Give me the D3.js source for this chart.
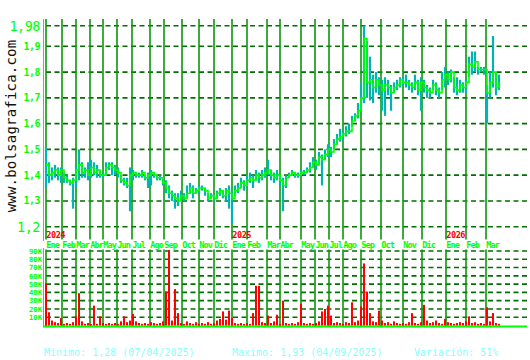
<!DOCTYPE html>
<html><head><meta charset="utf-8">
<script src="https://cdn.jsdelivr.net/npm/d3@7"></script>
<style>html,body{margin:0;padding:0;background:#fff;}svg{display:block;}</style>
</head><body>
<svg id="c" width="530" height="360"></svg>
<script>
// ---- DATA ----
const months = ["Ene","Feb","Mar","Abr","May","Jun","Jul","Ago","Sep","Oct","Nov","Dic",
                "Ene","Feb","Mar","Abr","May","Jun","Jul","Ago","Sep","Oct","Nov","Dic",
                "Ene","Feb","Mar"];
// trading sessions in each month (x axis is session-based)
const monthSessions = [16,14,14,13,14,15,18,14,18,17,15,18,
                       15,20,13,21,14,14,14,18,20,22,19,24,
                       20,20,14];
const yearLabels = ["2024","2025","2026"];
const yearMonthIndex = [0,12,24];
const sampleStep = 3; // sessions between samples
const close = [
1.44,1.40,1.41,1.42,1.40,1.42,1.39,1.38,1.37,1.38,
1.42,1.44,1.41,1.42,1.40,1.43,1.41,1.42,1.40,1.40,
1.43,1.44,1.43,1.42,1.41,1.38,1.37,1.36,1.40,1.41,
1.40,1.40,1.41,1.39,1.40,1.41,1.40,1.39,1.39,1.37,
1.35,1.33,1.32,1.31,1.30,1.32,1.31,1.33,1.35,1.33,
1.34,1.35,1.35,1.34,1.31,1.32,1.31,1.33,1.34,1.32,
1.34,1.33,1.31,1.34,1.35,
1.37,1.36,1.38,1.39,1.38,1.40,1.39,1.40,1.41,1.42,
1.40,1.39,1.40,1.38,1.36,1.39,1.40,1.41,1.40,1.40,
1.41,1.41,1.42,1.43,1.45,1.44,1.47,1.46,1.48,1.50,
1.49,1.52,1.54,1.55,1.56,1.57,1.57,1.61,1.63,1.65,
1.70,1.93,1.76,1.77,1.74,1.77,1.75,1.73,1.75,1.74,
1.72,1.74,1.75,1.77,1.76,1.76,1.75,1.74,1.76,1.73,
1.76,1.74,1.73,1.72,1.75,1.73,1.72,1.77,1.79,1.77,
1.80,1.74,1.73,1.75,1.74,1.76,1.83,1.82,1.84,1.81,
1.81,1.81,1.72,1.76,1.80,1.74,1.76];
const high = [
1.51,1.45,1.43,1.44,1.43,1.43,1.41,1.40,1.38,1.39,
1.44,1.50,1.45,1.43,1.45,1.46,1.45,1.44,1.42,1.41,
1.45,1.45,1.45,1.44,1.43,1.40,1.39,1.39,1.43,1.42,
1.41,1.41,1.42,1.40,1.41,1.42,1.41,1.40,1.40,1.39,
1.38,1.36,1.34,1.33,1.33,1.34,1.33,1.36,1.37,1.36,
1.35,1.36,1.36,1.35,1.33,1.33,1.32,1.34,1.35,1.34,
1.35,1.36,1.34,1.36,1.37,
1.39,1.38,1.40,1.41,1.40,1.42,1.41,1.42,1.43,1.46,
1.42,1.41,1.42,1.40,1.39,1.40,1.41,1.42,1.41,1.41,
1.42,1.42,1.43,1.45,1.47,1.46,1.49,1.48,1.50,1.52,
1.51,1.54,1.56,1.58,1.57,1.59,1.60,1.63,1.64,1.68,
1.76,1.98,1.92,1.86,1.79,1.80,1.78,1.77,1.78,1.77,
1.75,1.76,1.77,1.78,1.78,1.79,1.77,1.76,1.79,1.77,
1.78,1.77,1.75,1.74,1.77,1.76,1.74,1.80,1.82,1.80,
1.81,1.78,1.78,1.77,1.76,1.77,1.86,1.88,1.88,1.82,
1.82,1.82,1.75,1.80,1.94,1.80,1.79];
const low = [
1.35,1.37,1.38,1.39,1.38,1.37,1.37,1.37,1.36,1.27,
1.35,1.38,1.39,1.39,1.38,1.39,1.40,1.39,1.39,1.39,
1.40,1.42,1.40,1.40,1.39,1.37,1.36,1.35,1.26,1.38,
1.39,1.39,1.39,1.38,1.35,1.36,1.39,1.38,1.38,1.36,
1.33,1.31,1.30,1.27,1.28,1.30,1.30,1.31,1.33,1.31,
1.33,1.33,1.34,1.32,1.30,1.31,1.30,1.31,1.32,1.31,
1.30,1.27,1.21,1.32,1.33,
1.35,1.34,1.36,1.37,1.35,1.38,1.37,1.38,1.39,1.40,
1.38,1.37,1.38,1.36,1.26,1.35,1.39,1.40,1.39,1.39,
1.40,1.40,1.41,1.41,1.43,1.42,1.44,1.36,1.46,1.47,
1.47,1.50,1.52,1.53,1.54,1.55,1.56,1.59,1.61,1.62,
1.65,1.68,1.70,1.69,1.68,1.72,1.71,1.65,1.63,1.71,
1.65,1.72,1.73,1.74,1.75,1.74,1.73,1.72,1.73,1.71,
1.65,1.72,1.70,1.70,1.73,1.71,1.70,1.73,1.74,1.75,
1.76,1.72,1.71,1.72,1.72,1.72,1.78,1.79,1.80,1.79,
1.80,1.79,1.60,1.70,1.74,1.71,1.73];
const volumeK = [
51,16,6,4,3,9,2,3,2,4,
11,39,5,2,3,2,24,2,11,3,
2,3,2,3,2,5,11,4,6,14,
5,3,2,3,2,4,3,2,3,5,
41,91,6,44,15,3,2,5,3,2,
4,2,3,2,4,2,3,6,8,17,
7,18,9,3,2,
3,2,3,2,15,48,48,4,3,12,
3,5,13,2,30,3,2,3,2,4,
26,3,2,3,2,3,5,17,20,24,
12,3,4,3,2,4,3,28,4,6,
23,75,41,15,5,4,18,6,3,4,
2,5,3,2,3,2,4,15,3,2,
4,25,6,3,4,6,3,2,8,4,
3,2,3,4,3,5,11,3,4,2,
3,2,22,5,15,3,2];
const priceTicks = [1.2,1.3,1.4,1.5,1.6,1.7,1.8,1.9,1.98];
const volumeTicks = [10,20,30,40,50,60,70,80,90];
const statTexts = ["Minimo: 1,28 (07/04/2025)","Maximo: 1,93 (04/09/2025)","Variación: 51%"];
const siteName = "www.bolsagrafica.com";

// ---- CHART ----
const svg = d3.select("#c");
const monthStart = Array.from(d3.cumsum([0].concat(monthSessions.slice(0,-1))));
const x = d3.scaleLinear().domain([0, 454]).range([46, 500]);
const yP = d3.scaleLinear().domain([1.2, 1.98]).range([226.7, 25.7]);
const yV = d3.scaleLinear().domain([0, 90]).range([325.5, 251]);
const GRID_R = 527;
const mono = "'DejaVu Sans Mono', monospace";
const BG = "#00ff00";

svg.append("rect").attr("width",530).attr("height",360).attr("fill","#fff");

// horizontal dashed grid - price
svg.append("g").selectAll("line").data(priceTicks).join("line")
  .attr("x1",46).attr("x2",GRID_R)
  .attr("y1",d=>yP(d)).attr("y2",d=>yP(d))
  .attr("stroke","#007000").attr("stroke-width",1.6).attr("stroke-dasharray","5,3.5");
// horizontal dashed grid - volume
svg.append("g").selectAll("line").data(volumeTicks).join("line")
  .attr("x1",46).attr("x2",GRID_R)
  .attr("y1",d=>yV(d)).attr("y2",d=>yV(d))
  .attr("stroke","#007000").attr("stroke-width",1.6).attr("stroke-dasharray","5,3.5");

// month vertical lines
const mg = svg.append("g");
mg.selectAll("line.p").data(monthStart).join("line").attr("class","p")
  .attr("x1",d=>x(d)).attr("x2",d=>x(d)).attr("y1",19).attr("y2",239.5)
  .attr("stroke","#0a960a").attr("stroke-width",1.6);
mg.selectAll("line.v").data(monthStart).join("line").attr("class","v")
  .attr("x1",d=>x(d)).attr("x2",d=>x(d)).attr("y1",249.5).attr("y2",326)
  .attr("stroke","#0a960a").attr("stroke-width",1.6);

// axes lines
svg.append("line").attr("x1",43.5).attr("x2",43.5).attr("y1",19).attr("y2",241)
  .attr("stroke",BG).attr("stroke-width",1);
svg.append("line").attr("x1",43.5).attr("x2",43.5).attr("y1",248).attr("y2",327)
  .attr("stroke",BG).attr("stroke-width",1);
svg.append("line").attr("x1",43).attr("x2",GRID_R).attr("y1",326.5).attr("y2",326.5)
  .attr("stroke",BG).attr("stroke-width",2);

// price high-low bars
const idx = close.map((d,i)=>i*sampleStep);
svg.append("g").selectAll("line").data(close).join("line")
  .attr("x1",(d,i)=>x(idx[i])).attr("x2",(d,i)=>x(idx[i]))
  .attr("y1",(d,i)=>yP(high[i])).attr("y2",(d,i)=>yP(low[i]))
  .attr("stroke","#00b4b4").attr("stroke-width",2.2);
// close line
svg.append("path").datum(close)
  .attr("d", d3.line().x((d,i)=>x(idx[i])).y(d=>yP(d)).curve(d3.curveStepAfter))
  .attr("fill","none").attr("stroke","#00ff00").attr("stroke-width",1.6);

// volume bars
svg.append("g").selectAll("rect").data(volumeK).join("rect")
  .attr("x",(d,i)=>x(i*sampleStep)-1).attr("width",2)
  .attr("y",d=>yV(d)).attr("height",d=>yV(0)-yV(d))
  .attr("fill","#ff0000");

// y tick labels price
const isBig = d => (d===1.98||d===1.2);
svg.append("g").selectAll("text").data(priceTicks).join("text")
  .attr("x",40).attr("y",d=>yP(d))
  .attr("dy",d=>isBig(d)?5:3.5)
  .attr("text-anchor","end")
  .attr("font-family",mono)
  .attr("font-size",d=>isBig(d)?13.5:10)
  .attr("font-weight",d=>isBig(d)?"normal":"bold")
  .attr("letter-spacing","-0.5px")
  .attr("fill",BG)
  .text(d=>String(d).replace(".",","));

// volume tick labels
svg.append("g").selectAll("text").data(volumeTicks).join("text")
  .attr("x",42).attr("y",d=>yV(d)).attr("dy",2.8)
  .attr("text-anchor","end").attr("font-family",mono)
  .attr("font-size",7.2).attr("font-weight","bold").attr("letter-spacing","0px")
  .attr("fill",BG).text(d=>d+"K");

// month labels
svg.append("g").selectAll("text").data(months).join("text")
  .attr("x",(d,i)=>x(monthStart[i])+0.3).attr("y",247.5)
  .attr("font-family",mono).attr("font-size",8.6).attr("font-weight","bold")
  .attr("letter-spacing","-0.9px")
  .attr("fill",BG).text(d=>d);
// year labels
svg.append("g").selectAll("text").data(yearLabels).join("text")
  .attr("x",(d,i)=>x(monthStart[yearMonthIndex[i]])+0.3).attr("y",238)
  .attr("font-family",mono).attr("font-size",8.6).attr("font-weight","bold")
  .attr("letter-spacing","-0.5px")
  .attr("fill","#ff0000").text(d=>d);

// watermark
svg.append("text")
  .attr("transform","translate(16,126) rotate(-90)")
  .attr("text-anchor","middle").attr("font-family",mono).attr("font-size",14)
  .attr("letter-spacing","0.2px")
  .attr("fill","#111").text(siteName);

// stats
const statX = [44,232,414];
svg.append("g").selectAll("text").data(statTexts).join("text")
  .attr("x",(d,i)=>statX[i]).attr("y",355.5)
  .attr("font-family",mono).attr("font-size",10)
  .attr("fill","#88ffff").text(d=>d);
</script>
</body></html>
